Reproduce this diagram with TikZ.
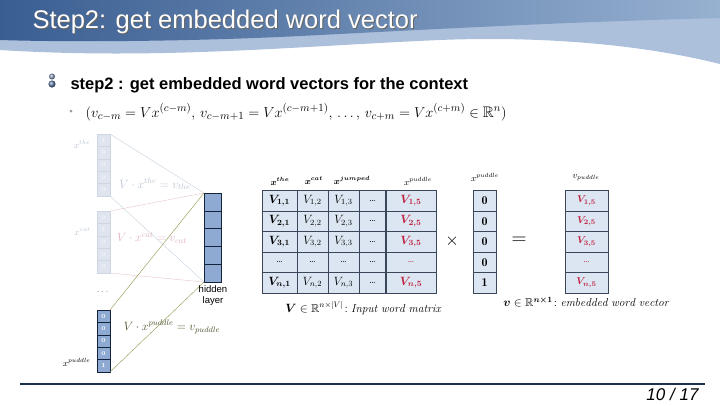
\documentclass[tikz,border=0pt]{standalone}
\usepackage{amsmath,amssymb,bm}
\usepackage{fontspec}
\newfontfamily\titlefont{Liberation Sans}
\newfontfamily\bodyfont{Liberation Sans}
\definecolor{hdrdark}{RGB}{58,94,146}
\definecolor{hdrright}{RGB}{150,176,208}
\definecolor{hdrshade}{RGB}{172,192,220}
\definecolor{cellfill}{RGB}{220,230,242}
\definecolor{cellline}{RGB}{60,70,90}
\definecolor{vred}{RGB}{192,36,66}
\definecolor{hidfill}{RGB}{142,170,210}
\definecolor{hidline}{RGB}{20,35,60}
\definecolor{fadefill}{RGB}{222,229,238}
\definecolor{fadeline}{RGB}{205,214,226}
\definecolor{fadetext}{RGB}{185,196,212}
\definecolor{theline}{RGB}{196,208,222}
\definecolor{catline}{RGB}{232,196,202}
\definecolor{cattext}{RGB}{224,180,190}
\definecolor{pudline}{RGB}{140,150,70}
\definecolor{pudtext}{RGB}{80,84,50}
\definecolor{footline}{RGB}{30,48,78}
\begin{document}
\begin{tikzpicture}[x=1pt,y=-1pt,
  cell/.style={draw=cellline,fill=cellfill,inner sep=0,outer sep=0,minimum height=20.5,font=\fontsize{12}{14}\selectfont},
  fade/.style={draw=fadeline,fill=fadefill,inner sep=0,outer sep=0,minimum width=13,minimum height=12.4,text=white,font=\fontsize{6}{7}\selectfont},
  pud/.style={draw=hidline,fill=hidfill,inner sep=0,outer sep=0,minimum width=13,minimum height=12.4,text=white,font=\fontsize{6}{7}\selectfont\bfseries},
  hid/.style={draw=hidline,fill=hidfill,inner sep=0,outer sep=0,minimum width=17,minimum height=17.8},
  vlabel/.style={font=\fontsize{9}{10}\selectfont}]
\useasboundingbox (0,0) rectangle (720,405);
%header
\fill[hdrshade] (0,0) -- (720,0) -- (720,64) .. controls (640,44) and (540,36) .. (440,40) .. controls (300,46) and (160,60) .. (0,50) -- cycle;
\shade[left color=hdrdark,right color=hdrright] (0,0) -- (720,0) -- (720,18) .. controls (560,22) and (420,30) .. (300,36) .. controls (180,42) and (60,42) .. (0,40) -- cycle;
\node[anchor=base west,text=black!60,font=\titlefont\fontsize{25.5}{28}\selectfont] at (30,29) {Step2: get embedded word vector};
\node[anchor=base west,text=white,font=\titlefont\fontsize{25.5}{28}\selectfont] (title) at (29,28) {Step2: get embedded word vector};
%bullets
\shade[ball color=hdrdark!80] (52,84) circle (3.6);
\shade[ball color=hdrdark!60] (52,76.5) circle (3);
\node[anchor=base west,font=\bodyfont\bfseries\fontsize{16.5}{19}\selectfont] (step) at (67,89) {step2 : get embedded word vectors for the context};
\fill[black!40] (71,111) circle (1.5);
\node[anchor=base west,font=\fontsize{15.3}{18}\selectfont] (eq) at (82,117) {$(v_{c-m}=Vx^{(c-m)},\, v_{c-m+1}=Vx^{(c-m+1)},\,\ldots,\,v_{c+m}=Vx^{(c+m)}\in\mathbb{R}^n)$};
%one-hot inputs
\foreach \v [count=\i] in {1,0,0,0,0}
  \node[fade] (the-\i) at (103.5,{134+(\i-0.5)*12.4}) {\v};
\foreach \v [count=\i] in {0,1,0,0,0}
  \node[fade] (cat-\i) at (103.5,{211+(\i-0.5)*12.4}) {\v};
\foreach \v [count=\i] in {0,0,0,0,1}
  \node[pud] (pud-\i) at (103.5,{310+(\i-0.5)*12.4}) {\v};
\node[vlabel,text=fadetext,anchor=east] (thelab) at (the-1.west) [xshift=-3,yshift=-4] {$x^{the}$};
\node[vlabel,text=fadetext,anchor=east] (catlab) at (cat-2.west) [xshift=-3,yshift=-2] {$x^{cat}$};
\node[vlabel,anchor=east] (pudlab) at (pud-5.west) [xshift=-3,yshift=3] {$x^{puddle}$};
\node[text=black!45] (dots) at (103.5,292) {$\cdots$};
%hidden layer
\foreach \i in {1,...,5}
  \node[hid] (h-\i) at (212.5,{193+(\i-0.5)*17.8}) {};
\draw[theline] (the-1.north east) -- (h-1.north west);
\draw[theline] (the-5.south east) -- (h-5.south west);
\draw[catline] (cat-1.north east) -- (h-1.north west);
\draw[catline] (cat-5.south east) -- (h-5.south west);
\draw[pudline] (pud-1.north east) -- (h-1.north west);
\draw[pudline] (pud-5.south east) -- (h-5.south west);
\node[align=center,font=\bodyfont\fontsize{9.5}{11}\selectfont,inner sep=0] (hidlab) at (213,296) {hidden\\layer};
\node[text=fadetext,font=\fontsize{12}{14}\selectfont] (thef) at (155,184) {$V\cdot x^{the}=v_{the}$};
\node[text=cattext,font=\fontsize{12}{14}\selectfont] (catf) at (152,238) {$V\cdot x^{cat}=v_{cat}$};
\node[text=pudtext,font=\fontsize{12}{14}\selectfont] (pudf) at (172,327) {$V\cdot x^{puddle}=v_{puddle}$};
%input word matrix
\foreach \ri/\ry [count=\r] in {1/200.75,2/221.25,3/241.75,n/282.75} {
  \node[cell,minimum width=35] (m-\r-1) at (279.5,\ry) {$\bm{V_{\ri,1}}$};
  \node[cell,minimum width=31] (m-\r-2) at (312.5,\ry) {$V_{\ri,2}$};
  \node[cell,minimum width=31] (m-\r-3) at (343.5,\ry) {$V_{\ri,3}$};
  \node[cell,minimum width=27,font=\fontsize{10}{12}\selectfont] (m-\r-4) at (372.5,\ry) {\dots};
  \node[cell,minimum width=50,text=vred] (m-\r-5) at (411,\ry) {$\bm{V_{\ri,5}}$};
}
\foreach \cx/\cw [count=\c] in {279.5/35,312.5/31,343.5/31,372.5/27}
  \node[cell,minimum width=\cw,font=\fontsize{10}{12}\selectfont] (d-\c) at (\cx,262.25) {\dots};
\node[cell,minimum width=50,text=vred,font=\fontsize{10}{12}\selectfont] (d-5) at (411,262.25) {\dots};
\draw[cellline,line width=1.2] (m-1-5.north west) -- (m-4-5.south west);
\node[vlabel] (xthe) at (280,181) {$\bm{x^{the}}$};
\node[vlabel] (xcat) at (314,181) {$\bm{x^{cat}}$};
\node[vlabel] (xjum) at (352,180) {$\bm{x^{jumped}}$};
\node[vlabel] (xpud) at (418,181) {$x^{puddle}$};
\node[font=\fontsize{11.5}{13}\selectfont] (vmat) at (363,308) {$\bm{V}\in\mathbb{R}^{n\times|V|}\!:\mathit{Input\ word\ matrix}$};
\node[font=\fontsize{18}{20}\selectfont] (times) at (452,241) {$\times$};
%one-hot puddle
\foreach \v/\ry [count=\r] in {0/200.75,0/221.25,0/241.75,0/262.25,1/282.75}
  \node[cell,minimum width=23] (p-\r) at (484.5,\ry) {$\mathbf{\v}$};
\node[vlabel] (xpud2) at (485,177) {$x^{puddle}$};
\node[font=\fontsize{20}{22}\selectfont] (eqs) at (519,241) {$=$};
%embedded vector
\foreach \vi/\ry [count=\r] in {1/200.75,2/221.25,3/241.75,n/282.75}
  \node[cell,minimum width=43,text=vred,font=\fontsize{10}{12}\selectfont] (e-\r) at (586.5,\ry) {$\bm{V_{\vi,5}}$};
\node[cell,minimum width=43,text=vred,font=\fontsize{10}{12}\selectfont] (e-d) at (586.5,262.25) {\dots};
\node[vlabel] (vpud) at (586,178) {$v_{puddle}$};
\node[font=\fontsize{11.5}{13}\selectfont] (vvec) at (586,302) {$\bm{v}\in\mathbb{R}^{\bm{n\times 1}}\!:\mathit{embedded\ word\ vector}$};
%footer
\draw[footline,line width=2.5] (20,384) -- (705,384);
\node[anchor=base east,font=\titlefont\itshape\fontsize{17}{19}\selectfont] (page) at (702,400) {10 / 17};
\end{tikzpicture}
\end{document}
